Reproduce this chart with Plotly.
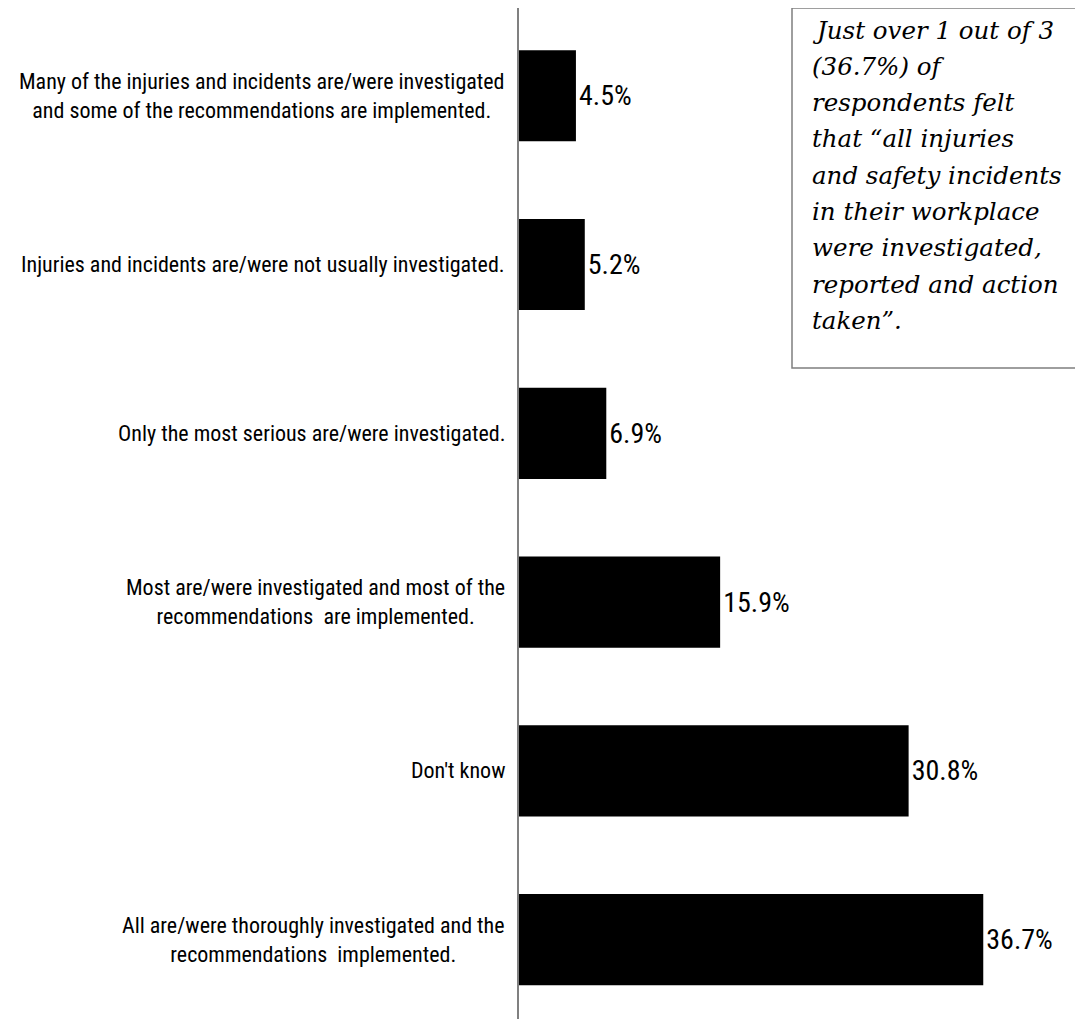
import plotly.graph_objects as go

# answers, top to bottom as shown
categories = [
    "Many of the injuries and incidents are/were investigated<br>and some of the recommendations are implemented.",
    "Injuries and incidents are/were not usually investigated.",
    "Only the most serious are/were investigated.",
    "Most are/were investigated and most of the<br>recommendations  are implemented.",
    "Don't know",
    "All are/were thoroughly investigated and the<br>recommendations  implemented.",
]
percent = [4.5, 5.2, 6.9, 15.9, 30.8, 36.7]

note_lines = [
    "Just over 1 out of 3",
    "(36.7%) of",
    "respondents felt",
    "that “all injuries",
    "and safety incidents",
    "in their workplace",
    "were investigated,",
    "reported and action",
    "taken”.",
]

# page body has an 8px margin, so the figure sits at (8, 8)
OFF = 8
W, H = 1083 - OFF, 1019 - OFF
ML, MT = 519 - OFF, 0
plot_w, plot_h = W - ML, H - MT

# plotly draws categories bottom-up, so reverse
cats = categories[::-1]
vals = percent[::-1]

fig = go.Figure(go.Bar(
    x=vals,
    y=cats,
    orientation="h",
    marker=dict(color="black", line=dict(width=0)),
    text=[f"{v:.1f}%" for v in vals],
    textposition="outside",
    textfont=dict(family="Roboto Condensed", size=28, color="black"),
    cliponaxis=False,
))

# category labels, centred lines, right edge just left of the axis
for c in cats:
    fig.add_annotation(
        x=0, y=c, xref="x", yref="y",
        text=c, showarrow=False,
        xanchor="right", yanchor="middle", align="center",
        xshift=-12,
        font=dict(family="Roboto Condensed", size=22, color="black"),
    )

# note box
fig.add_shape(
    type="rect", xref="paper", yref="paper",
    x0=(792 - OFF - ML) / plot_w, x1=(W + 4 - ML) / plot_w,
    y0=(1019 - 368) / plot_h, y1=1.0,
    line=dict(color="#7f7f7f", width=1.5),
    fillcolor="rgba(0,0,0,0)",
)
for i, line in enumerate(note_lines):
    py = 30 + 36.3 * i - OFF
    fig.add_annotation(
        x=(810 - OFF - ML) / plot_w, y=(H - py) / plot_h,
        xref="paper", yref="paper",
        text=f"<i>{line}</i>", showarrow=False,
        xanchor="left", yanchor="middle",
        font=dict(family="DejaVu Serif", size=24.5, color="black"),
    )

fig.update_layout(
    width=W, height=H,
    margin=dict(l=ML, r=0, t=MT, b=0),
    plot_bgcolor="white", paper_bgcolor="white",
    bargap=0.46,
    showlegend=False,
    xaxis=dict(range=[0, plot_w / 12.65], visible=False),
    yaxis=dict(
        range=[-0.47, 5.52],
        showticklabels=False, ticks="",
        showgrid=False, zeroline=False,
        showline=True, linecolor="#808080", linewidth=1.5,
    ),
)

fig.write_html("out.html")
